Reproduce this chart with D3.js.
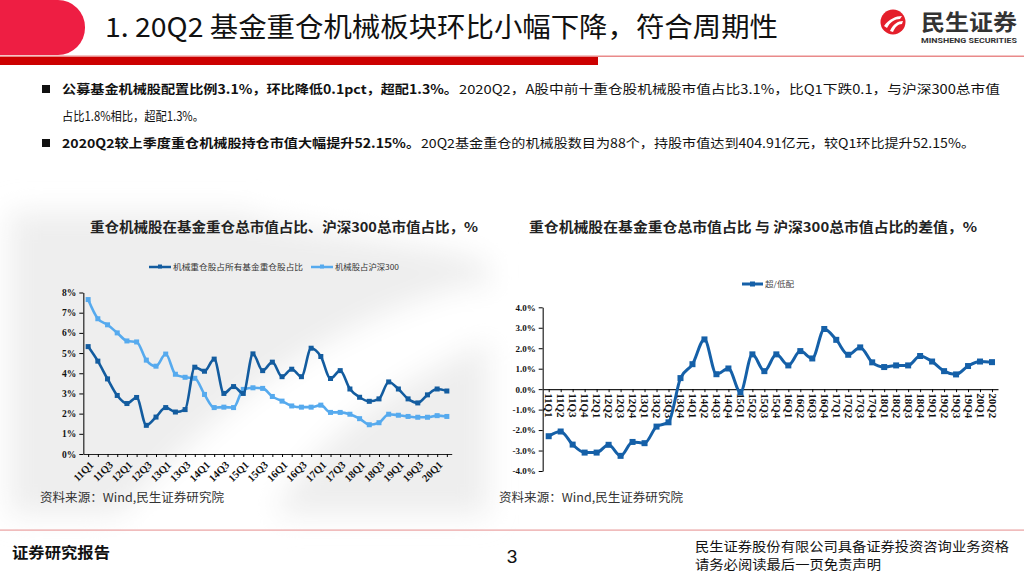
<!DOCTYPE html>
<html>
<head>
<meta charset="utf-8">
<script src="https://cdn.jsdelivr.net/npm/d3@7"></script>
<style>
  body { margin: 0; background: #fff; }
  svg { display: block; }
</style>
</head>
<body>
<script>
// 数据
const quarters = ["11Q1","11Q2","11Q3","11Q4","12Q1","12Q2","12Q3","12Q4","13Q1","13Q2","13Q3","13Q4",
  "14Q1","14Q2","14Q3","14Q4","15Q1","15Q2","15Q3","15Q4","16Q1","16Q2","16Q3","16Q4",
  "17Q1","17Q2","17Q3","17Q4","18Q1","18Q2","18Q3","18Q4","19Q1","19Q2","19Q3","19Q4","20Q1","20Q2"]

// 机械重仓股占所有基金重仓股占比 (%)
const fundShare = [5.32,4.6,3.72,2.9,2.5,2.8,1.42,1.83,2.3,2.08,2.2,4.3,
  4.1,4.7,3.0,3.34,3.0,4.96,4.13,4.55,3.83,4.2,3.83,5.24,
  4.83,3.74,4.13,3.22,2.81,2.61,2.73,3.57,3.22,2.73,2.53,2.93,3.22,3.12]

// 机械股占沪深300 (%)
const hs300Share = [7.65,6.7,6.4,6.0,5.6,5.55,4.65,4.35,4.95,3.95,3.8,3.75,
  2.95,2.3,2.32,2.3,3.2,3.28,3.25,2.85,2.62,2.38,2.32,2.32,
  2.42,2.06,2.06,1.97,1.75,1.45,1.55,1.97,1.92,1.86,1.82,1.82,1.9,1.86]

// 超/低配 (%)
const overWeight = [-2.3,-2.07,-2.71,-3.1,-3.1,-2.72,-3.26,-2.58,-2.64,-1.83,-1.62,0.54,
  1.22,2.43,0.73,1.01,-0.15,1.7,0.88,1.7,1.16,1.86,1.5,2.94,
  2.41,1.68,2.04,1.31,1.08,1.16,1.16,1.62,1.35,0.88,0.72,1.13,1.35,1.32]

const leftTicks = [0,1,2,3,4,5,6,7,8]
const rightTicks = [-4,-3,-2,-1,0,1,2,3,4]

const colDark = "#135c9f"
const colLight = "#56aaee"
const cjk = "'Noto Sans CJK SC', 'Noto Sans', sans-serif"
const serif = "'Liberation Serif', 'DejaVu Serif', serif"

let svg = d3.select("body").append("svg")
    .attr("width", 1024)
    .attr("height", 576)

let defs = svg.append("defs")
defs.append("filter").attr("id", "blur").attr("x", "-20%").attr("y", "-20%")
    .attr("width", "140%").attr("height", "140%")
    .append("feGaussianBlur").attr("stdDeviation", 14)

// 背景阴影 (左图)
let shade = svg.append("g").attr("filter", "url(#blur)")
shade.append("path")
    .attr("d", "M10,212 L250,212 C330,230 420,240 488,262 L488,515 L10,515 Z")
    .attr("fill", "#eeeeee")
shade.append("path")
    .attr("d", "M110,525 C200,430 300,330 470,285 L490,290 L490,340 C380,390 300,450 270,525 Z")
    .attr("fill", "#ffffff")
shade.append("path")
    .attr("d", "M250,218 C330,232 420,246 490,258 L490,240 L250,212 Z")
    .attr("fill", "#ffffff")

// ---------- 页眉 ----------
svg.append("path")
    .attr("d", "M0,0 L58,0 A27,27 0 0 1 85,27 L85,28 A27,27 0 0 1 58,55 L0,55 Z")
    .attr("fill", "#ee1e43")
svg.append("rect").attr("x", 0).attr("y", 55.5).attr("width", 1024).attr("height", 1.5).attr("fill", "#e98a8a")
svg.append("rect").attr("x", 0).attr("y", 57).attr("width", 598).attr("height", 8).attr("fill", "#cc0000")

svg.append("text")
    .attr("x", 105).attr("y", 37)
    .attr("font-family", cjk).attr("font-size", 27)
    .attr("textLength", 673).attr("lengthAdjust", "spacingAndGlyphs")
    .attr("fill", "#111")
    .text("1. 20Q2 基金重仓机械板块环比小幅下降，符合周期性")

// logo
let logo = svg.append("g").attr("transform", "translate(893,22)")
logo.append("circle").attr("r", 12.5).attr("fill", "#e41f2b")
logo.append("path").attr("d", "M-9,4 C-4,-3 3,-6 9,-6 L7,-3 C2,-3 -3,0 -6,6 Z").attr("fill", "#fff")
logo.append("path").attr("d", "M-3,9 C0,2 5,-1 10,-1 L9,2 C5,2 2,5 0,10 Z").attr("fill", "#fff")
svg.append("text").attr("x", 921).attr("y", 30)
    .attr("font-family", cjk).attr("font-size", 22).attr("font-weight", 700)
    .attr("textLength", 96).attr("lengthAdjust", "spacingAndGlyphs")
    .attr("fill", "#333").text("民生证券")
svg.append("text").attr("x", 921).attr("y", 42.5)
    .attr("font-family", "Roboto, sans-serif").attr("font-size", 7.5).attr("font-weight", 700)
    .attr("textLength", 96).attr("lengthAdjust", "spacingAndGlyphs")
    .attr("fill", "#333").text("MINSHENG SECURITIES")

// ---------- 要点文字 ----------
function bullet(y){
    svg.append("rect").attr("x", 42).attr("y", y - 9).attr("width", 8).attr("height", 8).attr("fill", "#111")
}
function line(x, y, w, txt, bold){
    svg.append("text").attr("x", x).attr("y", y)
        .attr("font-family", cjk).attr("font-size", 12.5)
        .attr("font-weight", bold ? 700 : 400)
        .attr("textLength", w).attr("lengthAdjust", "spacingAndGlyphs")
        .attr("fill", "#111").text(txt)
}
bullet(94)
line(62, 94, 396, "公募基金机械股配置比例3.1%，环比降低0.1pct，超配1.3%。", true)
line(459, 94, 541, "2020Q2，A股中前十重仓股机械股市值占比3.1%，比Q1下跌0.1，与沪深300总市值", false)
line(62, 121, 142, "占比1.8%相比，超配1.3%。", false)
bullet(148)
line(62, 148, 358, "2020Q2较上季度重仓机械股持仓市值大幅提升52.15%。", true)
line(421, 148, 554, "20Q2基金重仓的机械股数目为88个，持股市值达到404.91亿元，较Q1环比提升52.15%。", false)

// ---------- 左图 ----------
svg.append("text").attr("x", 90).attr("y", 232)
    .attr("font-family", cjk).attr("font-size", 13.5).attr("font-weight", 700)
    .attr("textLength", 388).attr("lengthAdjust", "spacingAndGlyphs")
    .attr("fill", "#222").text("重仓机械股在基金重仓总市值占比、沪深300总市值占比，%")

let xL = d3.scalePoint().domain(quarters).range([83.3, 451.7]).padding(0.5)
let yL = d3.scaleLinear().domain([0, 8]).range([454, 292.5])

let axL = svg.append("g")
axL.append("g").attr("transform", "translate(83.3,0)")
    .call(d3.axisLeft(yL).tickValues(leftTicks).tickFormat(d => d + "%").tickSize(4).tickSizeOuter(0))
    .call(g => g.select(".domain").attr("stroke", "#222").attr("stroke-width", 1.2))
    .call(g => g.selectAll("text").attr("font-family", serif).attr("font-weight", 700).attr("font-size", 9.5).attr("fill", "#111"))

axL.append("g").attr("transform", "translate(0,454)")
    .call(d3.axisBottom(xL).tickFormat((d, i) => i % 2 == 0 ? d : "").tickSize(3).tickSizeOuter(0))
    .call(g => g.select(".domain").attr("stroke", "#222").attr("stroke-width", 1.2))
    .call(g => g.selectAll("text")
        .attr("font-family", serif).attr("font-weight", 700).attr("font-size", 10.5).attr("fill", "#111")
        .attr("text-anchor", "end").attr("x", 0).attr("y", 0).attr("dy", "0.35em")
        .attr("transform", "translate(3,9) rotate(-45)"))

let lineL = d3.line().x((d, i) => xL(quarters[i])).y(d => yL(d)).curve(d3.curveMonotoneX)

function series(data, col, sw, ms){
    svg.append("path").datum(data)
        .attr("d", lineL).attr("fill", "none")
        .attr("stroke", col).attr("stroke-width", sw)
    svg.append("g").selectAll("rect").data(data).join("rect")
        .attr("x", (d, i) => xL(quarters[i]) - ms / 2)
        .attr("y", d => yL(d) - ms / 2)
        .attr("width", ms).attr("height", ms)
        .attr("fill", col)
}
series(hs300Share, colLight, 2.6, 5)
series(fundShare, colDark, 2.6, 5)

// 图例
function legendItem(x, y, col, txt, w){
    svg.append("line").attr("x1", x).attr("x2", x + 22).attr("y1", y).attr("y2", y)
        .attr("stroke", col).attr("stroke-width", 2.5)
    svg.append("rect").attr("x", x + 9).attr("y", y - 2.5).attr("width", 4).attr("height", 4).attr("fill", col)
    svg.append("text").attr("x", x + 24).attr("y", y + 3)
        .attr("font-family", cjk).attr("font-size", 7.5)
        .attr("textLength", w).attr("lengthAdjust", "spacingAndGlyphs")
        .attr("fill", "#333").text(txt)
}
legendItem(149, 267, colDark, "机械重仓股占所有基金重仓股占比", 130)
legendItem(311, 267, colLight, "机械股占沪深300", 64)

svg.append("text").attr("x", 40).attr("y", 502)
    .attr("font-family", cjk).attr("font-size", 12)
    .attr("textLength", 184).attr("lengthAdjust", "spacingAndGlyphs")
    .attr("fill", "#333").text("资料来源：Wind,民生证券研究院")

// ---------- 右图 ----------
svg.append("text").attr("x", 529).attr("y", 232)
    .attr("font-family", cjk).attr("font-size", 13.5).attr("font-weight", 700)
    .attr("textLength", 448).attr("lengthAdjust", "spacingAndGlyphs")
    .attr("fill", "#222").text("重仓机械股在基金重仓总市值占比 与 沪深300总市值占比的差值，%")

let xR = d3.scalePoint().domain(quarters).range([542.7, 998]).padding(0.5)
let yR = d3.scaleLinear().domain([-4, 4]).range([471, 307.3])

svg.append("g").attr("transform", "translate(542.7,0)")
    .call(d3.axisLeft(yR).tickValues(rightTicks).tickFormat(d => d.toFixed(1) + "%").tickSize(4).tickSizeOuter(0))
    .call(g => g.select(".domain").attr("stroke", "#222").attr("stroke-width", 1.2))
    .call(g => g.selectAll("text").attr("font-family", serif).attr("font-weight", 700).attr("font-size", 9).attr("fill", "#111"))

svg.append("g").attr("transform", "translate(0," + yR(0) + ")")
    .call(d3.axisBottom(xR).tickSize(3).tickSizeOuter(0))
    .call(g => g.select(".domain").attr("stroke", "#222").attr("stroke-width", 1.2))
    .call(g => g.selectAll("text")
        .attr("font-family", serif).attr("font-weight", 700).attr("font-size", 11).attr("fill", "#111")
        .attr("text-anchor", "start").attr("x", 0).attr("y", 0).attr("dy", "0.35em")
        .attr("transform", "translate(0,4) rotate(90)"))

let lineR = d3.line().x((d, i) => xR(quarters[i])).y(d => yR(d)).curve(d3.curveMonotoneX)
svg.append("path").datum(overWeight)
    .attr("d", lineR).attr("fill", "none")
    .attr("stroke", "#1560a8").attr("stroke-width", 3)
svg.append("g").selectAll("rect").data(overWeight).join("rect")
    .attr("x", (d, i) => xR(quarters[i]) - 3)
    .attr("y", d => yR(d) - 3)
    .attr("width", 6).attr("height", 6)
    .attr("fill", "#1560a8")

svg.append("line").attr("x1", 742).attr("x2", 763).attr("y1", 284).attr("y2", 284)
    .attr("stroke", "#1560a8").attr("stroke-width", 3)
svg.append("rect").attr("x", 750).attr("y", 281.5).attr("width", 5).attr("height", 5).attr("fill", "#1560a8")
svg.append("text").attr("x", 765).attr("y", 287)
    .attr("font-family", cjk).attr("font-size", 7.5)
    .attr("textLength", 29).attr("lengthAdjust", "spacingAndGlyphs")
    .attr("fill", "#444").text("超/低配")

svg.append("text").attr("x", 499).attr("y", 502)
    .attr("font-family", cjk).attr("font-size", 12)
    .attr("textLength", 184).attr("lengthAdjust", "spacingAndGlyphs")
    .attr("fill", "#333").text("资料来源：Wind,民生证券研究院")

// ---------- 页脚 ----------
svg.append("rect").attr("x", 0).attr("y", 529.5).attr("width", 1024).attr("height", 1.2).attr("fill", "#eaa0a0")
svg.append("text").attr("x", 12).attr("y", 558)
    .attr("font-family", cjk).attr("font-size", 15).attr("font-weight", 700)
    .attr("textLength", 98).attr("lengthAdjust", "spacingAndGlyphs")
    .attr("fill", "#111").text("证券研究报告")
svg.append("text").attr("x", 512).attr("y", 563)
    .attr("font-family", "'Liberation Sans', sans-serif").attr("font-size", 19)
    .attr("text-anchor", "middle").attr("fill", "#111").text("3")
svg.append("text").attr("x", 695).attr("y", 551)
    .attr("font-family", cjk).attr("font-size", 13)
    .attr("textLength", 314).attr("lengthAdjust", "spacingAndGlyphs")
    .attr("fill", "#111").text("民生证券股份有限公司具备证券投资咨询业务资格")
svg.append("text").attr("x", 695).attr("y", 569)
    .attr("font-family", cjk).attr("font-size", 13)
    .attr("textLength", 186).attr("lengthAdjust", "spacingAndGlyphs")
    .attr("fill", "#111").text("请务必阅读最后一页免责声明")
</script>
</body>
</html>
